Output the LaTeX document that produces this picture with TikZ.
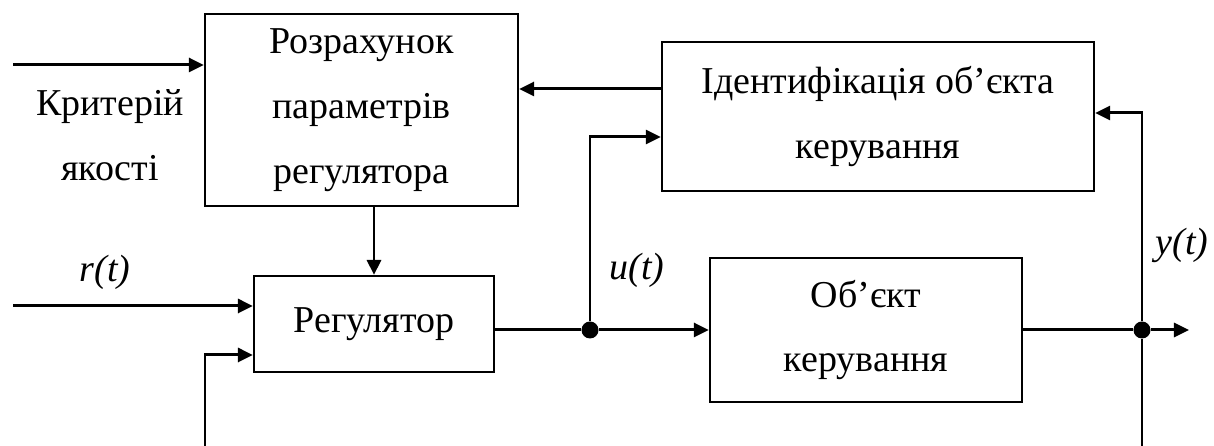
\documentclass[tikz,border=0pt]{standalone}
\usepackage{fontspec}
\setmainfont{Liberation Serif}
\usetikzlibrary{arrows.meta,positioning}

\begin{document}
\begin{tikzpicture}[x=0.01cm,y=-0.01cm,
  blk/.style={draw,line width=.6pt,align=center,inner sep=0pt,
              font=\fontsize{10.8}{18.4}\selectfont},
  txt/.style={align=center,font=\fontsize{10.8}{18.4}\selectfont},
  sig/.style={font=\fontsize{10.8}{14}\selectfont\itshape},
  wire/.style={line width=.85pt},
  arr/.style={wire,-{Triangle[length=1.5mm,width=1.4mm]}},
  jdot/.style={circle,fill,inner sep=0pt,minimum size=1.7mm}]
  \useasboundingbox (0,0) rectangle (1214,446);
  % blocks
  \node[blk,minimum width=3.13cm,minimum height=1.92cm] (calc) at (361.5,110)
    {Розрахунок\\параметрів\\регулятора};
  \node[blk,minimum width=4.32cm,minimum height=1.49cm] (ident) at (878,116.5)
    {Ідентифікація об’єкта\\керування};
  \node[blk,minimum width=2.40cm,minimum height=.96cm] (reg) at (374,324)
    {Регулятор};
  \node[blk,minimum width=3.12cm,minimum height=1.44cm] (plant) at (866,330)
    {Об’єкт\\керування};
  \node[txt] (crit) at (110,135) {Критерій\\якості};
  % signal points
  \coordinate (kin) at (13,65);
  \coordinate (rin) at (13,306);
  \coordinate (fbl) at (205,446);
  \coordinate (fbr) at (1142,446);
  \coordinate (ju) at (590,330);
  \coordinate (jy) at (1142,330);
  \coordinate (yout) at (1189,330);
  \node[jdot] (du) at (ju) {};
  \node[jdot] (dy) at (jy) {};
  % connections
  \draw[arr] (kin) -- (kin -| calc.west);
  \draw[arr] (ident.west |- 0,89) -- (calc.east |- 0,89);
  \draw[arr] (calc.south -| reg.north) -- (reg.north);
  \draw[arr] (rin) -- (rin -| reg.west);
  \draw[arr] (fbl) -- (205,355) -- (reg.west |- 0,355);
  \draw[wire] (reg.east |- ju) -- (du);
  \draw[arr] (du) -- (plant.west |- ju);
  \draw[arr] (du) -- (590,137) -- (ident.west |- 0,137);
  \draw[wire] (plant.east |- jy) -- (dy);
  \draw[arr] (dy) -- (yout);
  \draw[arr] (fbr) -- (dy) -- (1142,113) -- (ident.east |- 0,113);
  % signal labels
  \node[sig] (rlab) at (105,272) {r(t)};
  \node[sig] (ulab) at (637,270) {u(t)};
  \node[sig] (ylab) at (1182,245) {y(t)};
\end{tikzpicture}
\end{document}
